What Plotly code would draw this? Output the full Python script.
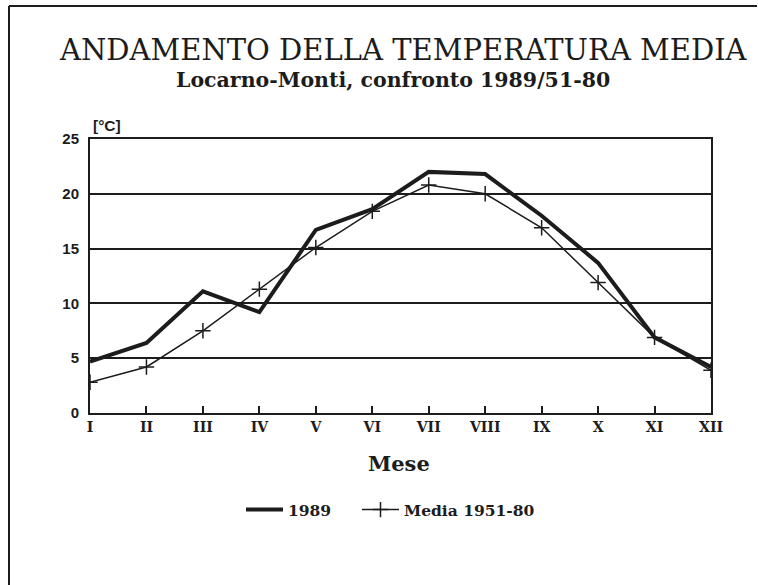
import plotly.graph_objects as go

months = ["I", "II", "III", "IV", "V", "VI", "VII", "VIII", "IX", "X", "XI", "XII"]
temp_1989 = [4.7, 6.4, 11.1, 9.2, 16.7, 18.6, 22.0, 21.8, 18.0, 13.7, 6.9, 4.2]
temp_media = [2.8, 4.2, 7.5, 11.3, 15.1, 18.4, 20.8, 20.0, 16.9, 11.9, 6.9, 3.9]
y_ticks = [0, 5, 10, 15, 20, 25]

ink = "#1c1c1c"

fig = go.Figure()
fig.add_trace(go.Scatter(
    x=months, y=temp_1989, mode="lines", name="1989",
    line=dict(color=ink, width=4), legend="legend",
))
fig.add_trace(go.Scatter(
    x=months, y=temp_media, mode="lines+markers", name="Media 1951-80",
    line=dict(color=ink, width=1.5),
    marker=dict(symbol="cross-thin", size=11, color=ink, line=dict(color=ink, width=1.5)),
    legend="legend2",
))

L, R, T, B = 90, 47, 139, 172
W, H = 758, 585
pw, ph = W - L - R, H - T - B

def px(x):
    return (x - L) / pw

def py(y):
    return (H - B - y) / ph

legend_font = dict(family="DejaVu Serif", size=15.5, color=ink, weight="bold")

fig.update_layout(
    width=W, height=H,
    margin=dict(l=L, r=R, t=T, b=B),
    paper_bgcolor="white", plot_bgcolor="white",
    showlegend=True,
    legend=dict(orientation="h", x=px(241), xanchor="left", y=py(510), yanchor="middle",
                font=legend_font, itemwidth=37),
    legend2=dict(orientation="h", x=px(357), xanchor="left", y=py(510), yanchor="middle",
                 font=legend_font, itemwidth=37),
    xaxis=dict(
        type="category", range=[0, 11],
        showline=True, linecolor=ink, linewidth=2, mirror=True,
        ticks="inside", ticklen=7, tickwidth=2, tickcolor=ink,
        showgrid=False,
        tickfont=dict(family="DejaVu Serif", size=14, color=ink, weight="bold"),
    ),
    yaxis=dict(
        range=[0, 25], tickvals=y_ticks,
        showline=True, linecolor=ink, linewidth=2, mirror=True,
        ticks="", showgrid=True, gridcolor=ink, gridwidth=1.5,
        tickfont=dict(family="Liberation Sans", size=15, color=ink, weight="bold"),
        ticklabelstandoff=6, zeroline=False,
    ),
    font=dict(family="DejaVu Serif", color=ink),
    annotations=[
        dict(text="ANDAMENTO DELLA TEMPERATURA MEDIA", x=px(403), y=py(50), xref="paper", yref="paper",
             showarrow=False, font=dict(family="DejaVu Serif", size=29, color=ink), xanchor="center", yanchor="middle"),
        dict(text="<b>Locarno-Monti, confronto 1989/51-80</b>", x=px(393), y=py(80), xref="paper", yref="paper",
             showarrow=False, font=dict(family="DejaVu Serif", size=20.5, color=ink), xanchor="center", yanchor="middle"),
        dict(text="<b>[°C]</b>", x=px(91), y=py(126), xref="paper", yref="paper",
             showarrow=False, font=dict(family="Liberation Sans", size=15.5, color=ink), xanchor="left", yanchor="middle"),
        dict(text="<b>Mese</b>", x=px(399), y=py(463), xref="paper", yref="paper",
             showarrow=False, font=dict(family="DejaVu Serif", size=21, color=ink), xanchor="center", yanchor="middle"),
    ],
    shapes=[
        dict(type="line", xref="paper", yref="paper", x0=px(9), x1=px(757), y0=py(6), y1=py(6),
             line=dict(color=ink, width=2)),
        dict(type="line", xref="paper", yref="paper", x0=px(9), x1=px(9), y0=py(6), y1=py(585),
             line=dict(color=ink, width=2)),
    ],
)

fig.write_html("out.html", config={"displayModeBar": False},
               post_script="document.body.style.margin='0';document.body.style.overflow='hidden';")
